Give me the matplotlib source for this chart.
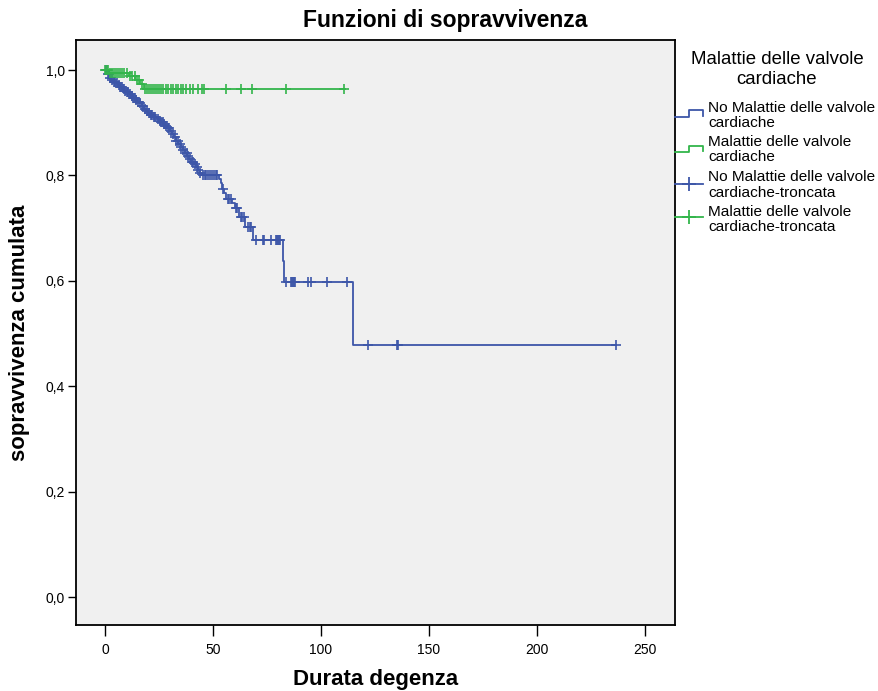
import numpy as np
import matplotlib.pyplot as plt
from matplotlib.lines import Line2D

plt.rcParams['font.family'] = ['Liberation Sans', 'DejaVu Sans']

# Kaplan-Meier steps: no valve disease
no_t = [0, 0.5, 1, 2, 3, 4, 5, 6, 7, 8, 9, 10, 11, 12, 13, 14, 15, 16, 17, 18,
        19, 20, 21, 22, 24, 25, 26, 27, 28, 29, 30, 31, 32, 33, 34, 35, 36, 37,
        38, 39, 40, 41, 42, 43, 44, 45, 53, 53.5, 54, 55, 56, 59, 60, 62, 65,
        68.5, 82.2, 83, 114.8]
no_s = [1.0, 0.996, 0.992, 0.985, 0.981, 0.978, 0.975, 0.972, 0.968, 0.964,
        0.961, 0.958, 0.955, 0.951, 0.947, 0.943, 0.940, 0.937, 0.932, 0.927,
        0.922, 0.918, 0.914, 0.911, 0.907, 0.904, 0.901, 0.898, 0.894, 0.890,
        0.885, 0.879, 0.873, 0.866, 0.860, 0.854, 0.848, 0.842, 0.836, 0.831,
        0.826, 0.821, 0.816, 0.810, 0.805, 0.800, 0.794, 0.785, 0.775, 0.766,
        0.756, 0.747, 0.738, 0.722, 0.702, 0.677, 0.638, 0.598, 0.479]
no_end = 236.5
no_cens = [0.3, 1.2, 1.8, 2.5, 3.4, 4.1, 4.8, 5.5, 6.3, 7.2, 7.8, 8.6, 9.4, 10.1,
           10.7, 11.5, 12.3, 13.2, 13.8, 14.6, 15.3, 16.4, 17.1, 17.8, 18.6,
           19.4, 20.3, 21.1, 21.7, 22.5, 23.2, 24.4, 25.3, 26.1, 26.7, 27.5,
           28.2, 29.1, 29.8, 30.6, 31.4, 32.2, 33.1, 33.8, 34.6, 35.3, 36.2,
           37.1, 37.8, 38.6, 39.4, 40.2, 40.8, 41.6, 42.4, 43.2, 44.1, 45.5,
           46.3, 47.0, 47.8, 48.6, 49.4, 50.3, 51.2, 52.1, 54.6, 56.8, 57.6,
           58.3, 60.7, 61.3, 62.8, 63.6, 64.3, 66.1, 67.0, 67.8, 69.8, 73.3,
           73.7, 76.9, 79.0, 79.5, 80.0, 80.5, 81.0, 83.8, 86.0, 86.5, 87.0,
           87.5, 88.0, 94.0, 95.6, 102.6, 111.9, 121.8, 135.0, 135.7, 236.5]

# Kaplan-Meier steps: valve disease
si_t = [0, 2, 11, 14, 16, 18]
si_s = [1.0, 0.995, 0.988, 0.981, 0.974, 0.964]
si_end = 111.0
si_cens = [0.0, 0.8, 1.6, 2.4, 3.3, 4.2, 5.1, 6.0, 7.0, 8.1, 9.0, 10.2, 11.5,
           12.6, 13.7, 14.8, 15.9, 17.0, 18.6, 19.5, 20.4, 21.3, 22.2, 23.1,
           24.0, 25.0, 26.1, 27.0, 28.2, 29.3, 30.5, 31.6, 32.7, 33.8, 35.0,
           36.1, 37.5, 39.5, 40.8, 43.0, 44.7, 45.8, 56.0, 62.8, 67.9, 83.8,
           110.8]

x_ticks = [0, 50, 100, 150, 200, 250]
y_ticks = [0.0, 0.2, 0.4, 0.6, 0.8, 1.0]

legend_title = ['Malattie delle valvole', 'cardiache']
legend_labels = [('No Malattie delle valvole', 'cardiache'),
                 ('Malattie delle valvole', 'cardiache'),
                 ('No Malattie delle valvole', 'cardiache-troncata'),
                 ('Malattie delle valvole', 'cardiache-troncata')]

blu = '#3d56a8'
verde = '#33b54b'

W, H = 879, 691


def surv_at(t, times, surv):
    idx = np.searchsorted(times, t, side='right') - 1
    return np.asarray(surv)[idx]


def fx(px):
    return px / W


def fy(py):
    return 1 - py / H


fig = plt.figure(figsize=(8.79, 6.91), dpi=100)
ax = fig.add_axes([fx(76), fy(625), fx(675) - fx(76), fy(40) - fy(625)])
ax.set_facecolor('#f0f0f0')

ax.step(no_t + [no_end], no_s + [no_s[-1]], where='post', color=blu, lw=1.3)
ax.step(si_t + [si_end], si_s + [si_s[-1]], where='post', color=verde, lw=1.3)
ax.plot(no_cens, surv_at(no_cens, no_t, no_s), '+', color=blu, ms=7.5, mew=1.2)
ax.plot(si_cens, surv_at(si_cens, si_t, si_s), '+', color=verde, ms=7.5, mew=1.2)

ax.set_xlim(-13.4, 263.9)
ax.set_ylim(-0.053, 1.057)
ax.set_xticks(x_ticks)
ax.set_yticks(y_ticks)
ax.set_yticklabels([f'{v:.1f}'.replace('.', ',') for v in y_ticks])
ax.tick_params(axis='x', length=8, width=1, labelsize=10, pad=5)
ax.tick_params(axis='y', length=6, width=1, labelsize=10, pad=2)
for sp in ax.spines.values():
    sp.set_linewidth(1.3)

fig.text(fx(445), fy(20), 'Funzioni di sopravvivenza', fontsize=16.5,
         fontweight='bold', ha='center', va='center')
ax.set_xlabel('Durata degenza', fontsize=16, fontweight='bold')
ax.xaxis.set_label_coords(0.5, -55 / 585)
ax.xaxis.label.set_va('center')
ax.set_ylabel('sopravvivenza cumulata', fontsize=16, fontweight='bold')
ax.yaxis.set_label_coords(-56 / 599, 0.5)
ax.yaxis.label.set_va('center')

# legend drawn at the right of the plot
for txt, py in zip(legend_title, [60, 79]):
    fig.text(fx(777), fy(py), txt, fontsize=13.4, ha='center', va='center')

text_rows = [(108, 123), (142, 157), (177, 193), (212, 227)]
for (l1, l2), (y1, y2) in zip(legend_labels, text_rows):
    fig.text(fx(708), fy(y1), l1, fontsize=11.1, ha='left', va='center')
    fig.text(fx(708), fy(y2), l2, fontsize=11.1, ha='left', va='center')

for col, lo, hi in [(blu, 117, 110), (verde, 152, 146)]:
    fig.add_artist(Line2D([fx(675), fx(689), fx(689), fx(703), fx(703)],
                          [fy(lo), fy(lo), fy(hi), fy(hi), fy(lo - 1)],
                          color=col, lw=1.3, transform=fig.transFigure))
for col, py in [(blu, 184), (verde, 217)]:
    fig.add_artist(Line2D([fx(675), fx(703)], [fy(py), fy(py)], color=col,
                          lw=1.3, transform=fig.transFigure))
    fig.add_artist(Line2D([fx(689)], [fy(py)], color=col, marker='+', ms=10.5,
                          mew=1.3, ls='none', transform=fig.transFigure))

fig.savefig('out.png', dpi=100)
